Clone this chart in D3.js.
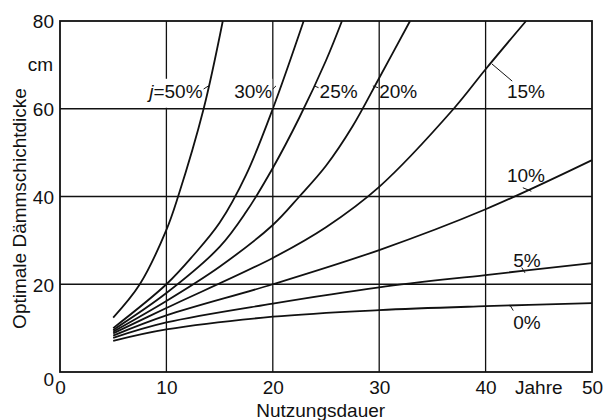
<!DOCTYPE html>
<html lang="de">
<head>
  <meta charset="UTF-8">
  <title>Optimale Dämmschichtdicke</title>
  <script src="https://d3js.org/d3.v7.min.js"></script>
  <style>
    body { margin: 0; background: #fff; }
    svg { font-family: "Liberation Sans", "DejaVu Sans", sans-serif; }
    .grid line { stroke: #111; stroke-width: 1.3; }
    .curve { fill: none; stroke: #111; stroke-width: 1.8; }
    .frame { fill: none; stroke: #111; stroke-width: 1.8; }
    .axis text, .lbl { fill: #111; font-size: 19px; }
    .leader { stroke: #111; stroke-width: 1; }
  </style>
</head>
<body>
  <svg width="604" height="420"></svg>
  <script>
    // tick values
    const xTicks = [0, 10, 20, 30, 40, 50];
    const yTicks = [0, 20, 40, 60, 80];

    // curves: [Nutzungsdauer in Jahren, Dicke in cm]
    const j0  = [[5, 7.1], [10, 9.7], [20, 12.6], [30, 14.1], [40, 15.0], [50, 15.7]];
    const j5  = [[5, 7.8], [10, 11.3], [20, 15.6], [30, 19.3], [40, 22.1], [50, 24.8]];
    const j10 = [[5, 8.3], [10, 12.9], [20, 20.0], [30, 27.8], [40, 37.1], [50, 48.3]];
    const j15 = [[5, 8.8], [10, 14.6], [20, 26.0], [25, 33.0], [30, 42.2], [37, 60], [40, 69], [43.8, 80]];
    const j20 = [[5, 9.2], [10, 16.2], [15, 24], [20, 33.5], [22.5, 40], [25, 47], [27.5, 56], [30, 67], [32.9, 80]];
    const j25 = [[5, 9.6], [10, 18], [15, 28.5], [17.5, 36.5], [20, 46.5], [22.5, 58], [25, 71], [26.5, 80]];
    const j30 = [[5, 10.0], [10, 20], [12.5, 26.5], [15, 34], [17.5, 45], [20, 60], [22.9, 80]];
    const j50 = [[5, 12.4], [7.5, 20], [10, 32.4], [11.1, 40], [13.5, 60], [15.3, 80]];
    const series = [j0, j5, j10, j15, j20, j25, j30, j50];

    const svg = d3.select("svg"),
          margin = {top: 21, right: 12, bottom: 48, left: 60},
          width = +svg.attr("width") - margin.left - margin.right,
          height = +svg.attr("height") - margin.top - margin.bottom;

    const x = d3.scaleLinear().domain([0, 50]).range([margin.left, margin.left + width]);
    const y = d3.scaleLinear().domain([0, 80]).range([margin.top + height, margin.top]);

    // grid
    const grid = svg.append("g").attr("class", "grid");
    grid.selectAll(".gx")
      .data(xTicks.slice(1, -1))
      .enter().append("line")
      .attr("x1", d => x(d)).attr("x2", d => x(d))
      .attr("y1", y(0)).attr("y2", y(80));
    grid.selectAll(".gy")
      .data(yTicks.slice(1, -1))
      .enter().append("line")
      .attr("x1", x(0)).attr("x2", x(50))
      .attr("y1", d => y(d)).attr("y2", d => y(d));

    // curves
    const line = d3.line()
      .x(d => x(d[0]))
      .y(d => y(d[1]))
      .curve(d3.curveCatmullRom.alpha(0.5));

    svg.selectAll(".curve")
      .data(series)
      .enter().append("path")
      .attr("class", "curve")
      .attr("d", line);

    svg.append("rect")
      .attr("class", "frame")
      .attr("x", x(0)).attr("y", y(80))
      .attr("width", x(50) - x(0)).attr("height", y(0) - y(80));

    // axes (labels only)
    const xAxis = svg.append("g")
      .attr("class", "axis")
      .attr("transform", `translate(0,${y(0)})`)
      .call(d3.axisBottom(x).tickValues(xTicks).tickSize(0).tickPadding(8));
    xAxis.select(".domain").remove();
    xAxis.selectAll("text").attr("font-size", 19).attr("font-family", null).attr("dy", "0.74em");

    const yAxis = svg.append("g")
      .attr("class", "axis")
      .attr("transform", `translate(${x(0)},0)`)
      .call(d3.axisLeft(y).tickValues(yTicks).tickSize(0).tickPadding(6));
    yAxis.select(".domain").remove();
    yAxis.selectAll("text").attr("font-size", 19).attr("font-family", null)
      .attr("dy", d => d === 0 ? "0.7em" : "0.36em");

    svg.append("text").attr("class", "lbl")
      .attr("x", x(45)).attr("y", y(0) + 22)
      .attr("text-anchor", "middle").text("Jahre");

    svg.append("text").attr("class", "lbl")
      .attr("x", x(24.5)).attr("y", 417)
      .attr("text-anchor", "middle").text("Nutzungsdauer");

    svg.append("text").attr("class", "lbl")
      .attr("x", x(0) - 7).attr("y", y(70) + 6)
      .attr("text-anchor", "end").text("cm");

    svg.append("text").attr("class", "lbl")
      .attr("transform", `translate(26,${y(40) + 12}) rotate(-90)`)
      .attr("text-anchor", "middle").text("Optimale Dämmschichtdicke");

    // curve label with a short leader line to its curve
    function addLabel(parts, tx, ty, anchor, lx1, ly1, lx2, ly2, blank) {
      const t = svg.append("text").attr("class", "lbl")
        .attr("x", x(tx)).attr("y", y(ty)).attr("text-anchor", anchor);
      parts.forEach(p => t.append("tspan").attr("font-style", p.it ? "italic" : null).text(p.s));
      if (blank) {
        // the reference blanks the vertical grid line under these labels
        const b = t.node().getBBox();
        svg.insert("rect", () => t.node())
          .attr("x", b.x - 2).attr("y", b.y - 2)
          .attr("width", b.width + 2).attr("height", y(60) - b.y + 1)
          .attr("fill", "#fff");
      }
      svg.append("line").attr("class", "leader")
        .attr("x1", x(lx1)).attr("y1", y(ly1))
        .attr("x2", x(lx2)).attr("y2", y(ly2));
    }

    addLabel([{s: "j", it: true}, {s: "=50%"}], 13.4, 62.5, "end", 13.5, 64.5, 13.95, 65.2, true);
    addLabel([{s: "30%"}], 19.95, 62.5, "end", 20.0, 64.5, 20.3, 65.2, true);
    addLabel([{s: "25%"}], 24.4, 62.5, "start", 24.3, 64.8, 23.9, 65.2, false);
    addLabel([{s: "20%"}], 30.0, 62.5, "start", 29.9, 64.8, 29.4, 65.2, false);
    addLabel([{s: "15%"}], 42.0, 62.5, "start", 40.6, 70.2, 42.5, 66.3, false);
    addLabel([{s: "10%"}], 42.0, 43.4, "start", 43.5, 42.0, 44.3, 41.2, false);
    addLabel([{s: "5%"}], 42.6, 24.0, "start", 43.4, 23.8, 43.7, 22.6, false);
    addLabel([{s: "0%"}], 42.6, 9.8, "start", 42.3, 15.2, 42.6, 14.0, false);
  </script>
</body>
</html>
